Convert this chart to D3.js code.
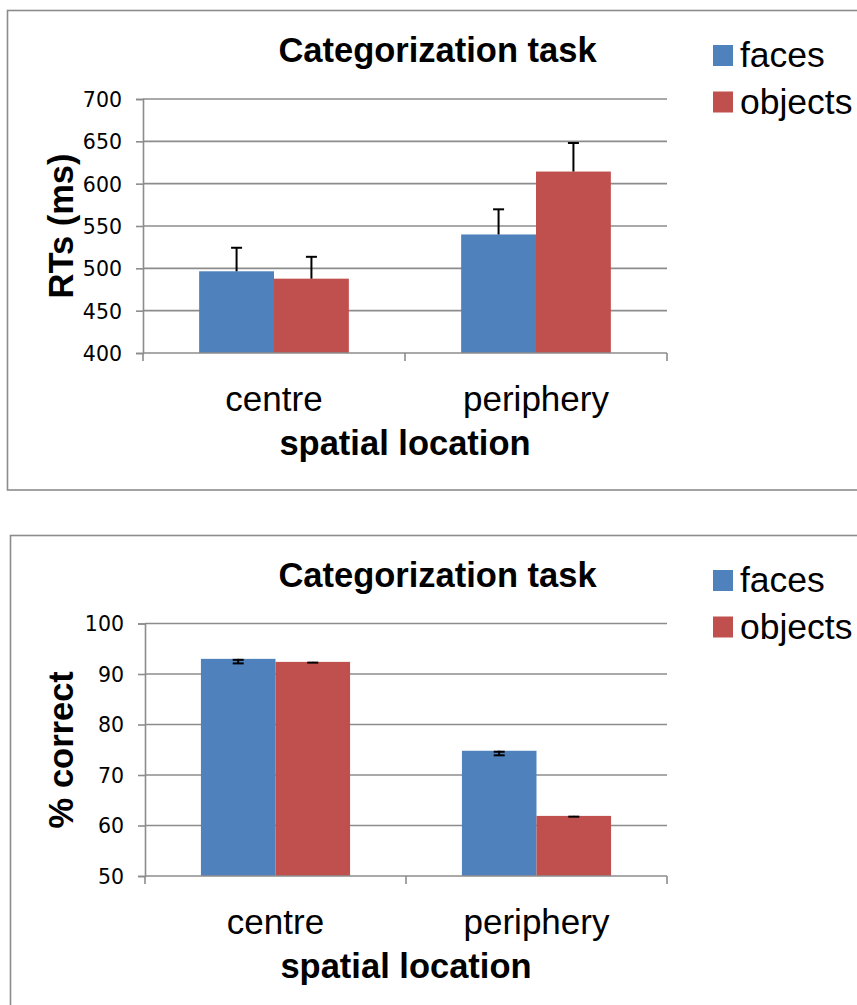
<!DOCTYPE html>
<html>
<head>
<meta charset="utf-8">
<script src="https://cdn.jsdelivr.net/npm/d3@7/dist/d3.min.js"></script>
<style>
  html, body { margin: 0; padding: 0; background: #ffffff; }
  svg { display: block; }
</style>
</head>
<body>
<svg id="fig" width="857" height="1005"></svg>
<script>
// Shared categories and series
const categories = ["centre", "periphery"];
const seriesNames = ["faces", "objects"];
const seriesColors = ["#4F81BD", "#C0504D"];

// Reaction times (ms)
const rtFaces = [496.5, 540];
const rtObjects = [487.8, 614.3];
const rtFacesErr = [27.8, 29.7];
const rtObjectsErr = [25.8, 33.7];
const rtTicks = [400, 450, 500, 550, 600, 650, 700];

// Accuracy (% correct)
const pctFaces = [93.0, 74.8];
const pctObjects = [92.4, 61.9];
const pctFacesErr = [0.9, 0.9];
const pctObjectsErr = [0.15, 0.15];
const pctTicks = [50, 60, 70, 80, 90, 100];

const svg = d3.select("#fig");
const gridColor = "#8c8c8c";
const sans = "Liberation Sans, Arial, sans-serif";

function drawPanel(opt) {
  const g = svg.append("g");

  // frame around the panel
  g.append("rect")
    .attr("x", opt.frame.x).attr("y", opt.frame.y)
    .attr("width", opt.frame.w).attr("height", opt.frame.h)
    .attr("fill", "none").attr("stroke", gridColor).attr("stroke-width", 1.6);

  // category bands; the two bars fill 2 of 3.5 bar-widths (gap width 150%)
  const x0 = d3.scaleBand().domain(categories).range([opt.left, opt.right]);
  const bw = x0.bandwidth();
  const x1 = d3.scaleBand().domain(seriesNames)
    .range([bw * 0.75 / 3.5, bw * 2.75 / 3.5]);

  const y = d3.scaleLinear().domain(opt.domain).range([opt.bottom, opt.top]);

  // horizontal gridlines
  g.append("g").selectAll("line").data(opt.ticks.slice(1)).join("line")
    .attr("x1", opt.left).attr("x2", opt.right)
    .attr("y1", d => y(d)).attr("y2", d => y(d))
    .attr("stroke", gridColor).attr("stroke-width", 1.6);

  // y axis
  const yAxis = d3.axisLeft(y).tickValues(opt.ticks).tickSize(7).tickPadding(14)
    .tickFormat(d3.format("d"));
  const ya = g.append("g").attr("transform", `translate(${opt.left},0)`).call(yAxis);
  ya.select(".domain").attr("stroke", gridColor).attr("stroke-width", 1.6);
  ya.selectAll(".tick line").attr("stroke", gridColor).attr("stroke-width", 1.6);
  ya.selectAll(".tick text")
    .attr("font-family", "DejaVu Sans").attr("font-size", 20.5).attr("fill", "#000")
    .attr("dy", "0.36em");

  // bars
  const rows = categories.map((c, i) => ({
    cat: c,
    vals: [opt.a[i], opt.b[i]],
    errs: [opt.aErr[i], opt.bErr[i]]
  }));
  const groups = g.append("g").selectAll("g").data(rows).join("g")
    .attr("transform", d => `translate(${x0(d.cat)},0)`);
  groups.selectAll("rect").data(d => d.vals.map((v, k) => ({ v, k }))).join("rect")
    .attr("x", d => x1(seriesNames[d.k]))
    .attr("width", x1.bandwidth())
    .attr("y", d => y(d.v))
    .attr("height", d => y(opt.domain[0]) - y(d.v))
    .attr("fill", d => seriesColors[d.k]);

  // one-sided error bars
  const eb = groups.selectAll("g.err").data(d => d.vals.map((v, k) => ({ v, e: d.errs[k], k })))
    .join("g").attr("class", "err");
  const endVal = d => opt.errUp ? d.v + d.e : d.v - d.e;
  const cx = d => x1(seriesNames[d.k]) + x1.bandwidth() / 2;
  eb.append("line")
    .attr("x1", cx).attr("x2", cx)
    .attr("y1", d => y(d.v)).attr("y2", d => y(endVal(d)))
    .attr("stroke", "#000").attr("stroke-width", 2);
  eb.append("line")
    .attr("x1", d => cx(d) - 5.5).attr("x2", d => cx(d) + 5.5)
    .attr("y1", d => y(endVal(d))).attr("y2", d => y(endVal(d)))
    .attr("stroke", "#000").attr("stroke-width", 2);
  if (!opt.errUp) {
    eb.append("line")
      .attr("x1", d => cx(d) - 5.5).attr("x2", d => cx(d) + 5.5)
      .attr("y1", d => y(d.v) + 1).attr("y2", d => y(d.v) + 1)
      .attr("stroke", "#000").attr("stroke-width", 2)
      .attr("opacity", d => d.e > 0.5 ? 1 : 0);
  }

  // x axis with category boundary ticks
  const xa = g.append("g");
  xa.append("line").attr("x1", opt.left).attr("x2", opt.right)
    .attr("y1", opt.bottom).attr("y2", opt.bottom)
    .attr("stroke", gridColor).attr("stroke-width", 1.6);
  const bounds = categories.map(c => x0(c)).concat([x0(categories[categories.length - 1]) + bw]);
  xa.selectAll("line.b").data(bounds).join("line").attr("class", "b")
    .attr("x1", d => d).attr("x2", d => d)
    .attr("y1", opt.bottom).attr("y2", opt.bottom + 8)
    .attr("stroke", gridColor).attr("stroke-width", 1.6);
  xa.selectAll("text").data(categories).join("text")
    .attr("x", d => x0(d) + bw / 2)
    .attr("y", opt.bottom + 58)
    .attr("text-anchor", "middle")
    .attr("font-family", sans).attr("font-size", 35)
    .text(d => d);

  // titles
  g.append("text").attr("x", 437.5).attr("y", opt.titleY)
    .attr("text-anchor", "middle")
    .attr("font-family", sans).attr("font-weight", "bold")
    .attr("font-size", 34.5).text("Categorization task");
  g.append("text")
    .attr("x", (opt.left + opt.right) / 2)
    .attr("y", opt.bottom + 102)
    .attr("text-anchor", "middle")
    .attr("font-family", sans).attr("font-weight", "bold")
    .attr("font-size", 34.5).text("spatial location");
  g.append("text")
    .attr("transform", `translate(73,${(opt.top + opt.bottom) / 2}) rotate(-90)`)
    .attr("text-anchor", "middle")
    .attr("font-family", sans).attr("font-weight", "bold")
    .attr("font-size", 34.5).text(opt.yTitle);

  // legend
  const lg = g.append("g").attr("transform", `translate(713,${opt.legendY})`);
  const items = lg.selectAll("g").data(seriesNames).join("g")
    .attr("transform", (d, i) => `translate(0,${i * 46.5})`);
  items.append("rect").attr("x", 0).attr("y", 0).attr("width", 20).attr("height", 21)
    .attr("fill", (d, i) => seriesColors[i]);
  items.append("text").attr("x", 27).attr("y", 22)
    .attr("font-family", sans).attr("font-size", 35.5)
    .text(d => d);
}

drawPanel({
  frame: { x: 7.5, y: 10.5, w: 900, h: 479.5 },
  left: 143, right: 667, top: 99, bottom: 353,
  domain: [400, 700], ticks: rtTicks,
  a: rtFaces, b: rtObjects, aErr: rtFacesErr, bErr: rtObjectsErr, errUp: true,
  titleY: 62, yTitle: "RTs (ms)", legendY: 45
});

drawPanel({
  frame: { x: 10.5, y: 535.5, w: 900, h: 500 },
  left: 145, right: 667, top: 623.5, bottom: 876,
  domain: [50, 100], ticks: pctTicks,
  a: pctFaces, b: pctObjects, aErr: pctFacesErr, bErr: pctObjectsErr, errUp: false,
  titleY: 587, yTitle: "% correct", legendY: 570
});
</script>
</body>
</html>
